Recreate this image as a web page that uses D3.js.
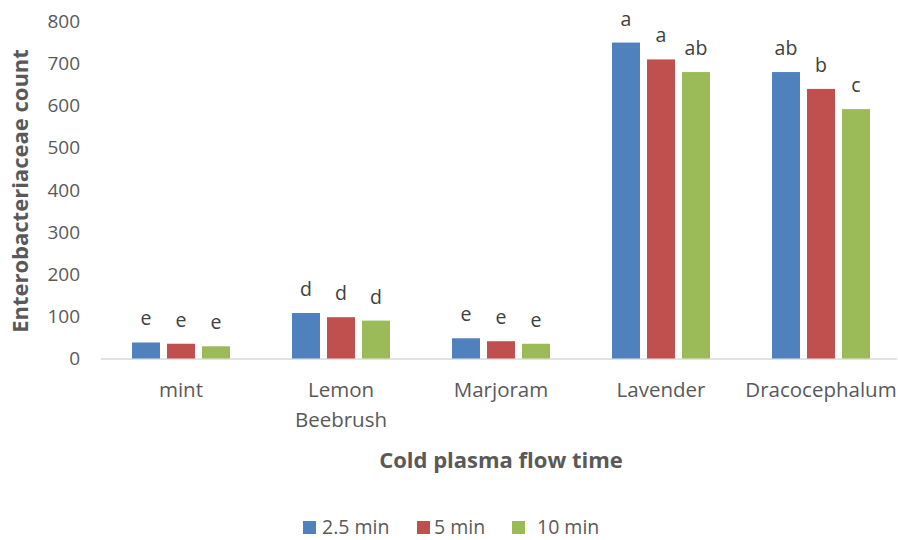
<!DOCTYPE html>
<html><head><meta charset="utf-8">
<script src="https://cdn.jsdelivr.net/npm/d3@7"></script>
<style>body{margin:0;background:#fff}svg{display:block}text{font-family:"Open Sans",sans-serif}</style>
</head><body><div id="c"></div>
<script>
const categories = ["mint", "Lemon Beebrush", "Marjoram", "Lavender", "Dracocephalum"];
const seriesNames = ["2.5 min", "5 min", "10 min"];
const colors = ["#4F81BD", "#C0504D", "#9BBB59"];
const values25 = [38, 108, 48, 750, 680];
const values5 = [35, 98, 41, 710, 640];
const values10 = [29, 90, 35, 680, 592];
const letters25 = ["e", "d", "e", "a", "ab"];
const letters5 = ["e", "d", "e", "a", "b"];
const letters10 = ["e", "d", "e", "ab", "c"];
const yTicks = [0, 100, 200, 300, 400, 500, 600, 700, 800];

const W = 898, H = 540;
const svg = d3.select("#c").append("svg").attr("width", W).attr("height", H);
const x = d3.scaleBand().domain(categories).range([101, 901]).paddingInner(0).paddingOuter(0);
const y = d3.scaleLinear().domain([0, 800]).range([358.5, 21.5]);
const xi = d3.scaleBand().domain(seriesNames).range([0, 98]).paddingInner(0.2);

// y axis labels
const yAxis = d3.axisLeft(y).tickValues(yTicks).tickSize(0).tickPadding(0);
const yg = svg.append("g").attr("transform", "translate(80,0)").call(yAxis);
yg.select(".domain").remove();
yg.selectAll("text").attr("font-size", 19).attr("fill", "#595959").attr("font-family", "Open Sans");

// baseline
svg.append("line").attr("x1", 101).attr("x2", 897).attr("y1", y(0) + 0.5).attr("y2", y(0) + 0.5)
  .attr("stroke", "#d9d9d9").attr("stroke-width", 1.5);

const series = [values25, values5, values10];
const letters = [letters25, letters5, letters10];
series.forEach((vals, si) => {
  const g = svg.append("g");
  g.selectAll("rect").data(categories).join("rect")
    .attr("x", c => x(c) + (x.bandwidth() - 98) / 2 + xi(seriesNames[si]))
    .attr("width", xi.bandwidth())
    .attr("y", (c, i) => y(vals[i]))
    .attr("height", (c, i) => y(0) - y(vals[i]))
    .attr("fill", colors[si]);
  g.selectAll("text").data(categories).join("text")
    .attr("x", c => x(c) + (x.bandwidth() - 98) / 2 + xi(seriesNames[si]) + xi.bandwidth() / 2)
    .attr("y", (c, i) => y(vals[i]) - 17)
    .attr("text-anchor", "middle").attr("font-size", 19.5).attr("fill", "#404040")
    .text((c, i) => letters[si][i]);
});

// category labels
const xg = svg.append("g");
categories.forEach(c => {
  const words = c.split(" ");
  const t = xg.append("text").attr("text-anchor", "middle").attr("font-size", 20.5).attr("fill", "#595959");
  words.forEach((w, k) => {
    t.append("tspan").attr("x", x(c) + x.bandwidth() / 2).attr("y", 397 + k * 30).text(w);
  });
});

// axis titles
svg.append("text").attr("transform", "translate(28,191) rotate(-90)").attr("text-anchor", "middle")
  .attr("font-size", 22).attr("font-weight", "bold").attr("fill", "#595959").text("Enterobacteriaceae count");
svg.append("text").attr("x", 501).attr("y", 468).attr("text-anchor", "middle")
  .attr("font-size", 22).attr("font-weight", "bold").attr("fill", "#595959").text("Cold plasma flow time");

// legend
const legX = [303, 417, 512];
const legTX = [322, 434, 537];
seriesNames.forEach((s, i) => {
  svg.append("rect").attr("x", legX[i]).attr("y", 521).attr("width", 13).attr("height", 13).attr("fill", colors[i]);
  svg.append("text").attr("x", legTX[i]).attr("y", 534).attr("font-size", 19.5).attr("fill", "#595959").text(s);
});
</script></body></html>
